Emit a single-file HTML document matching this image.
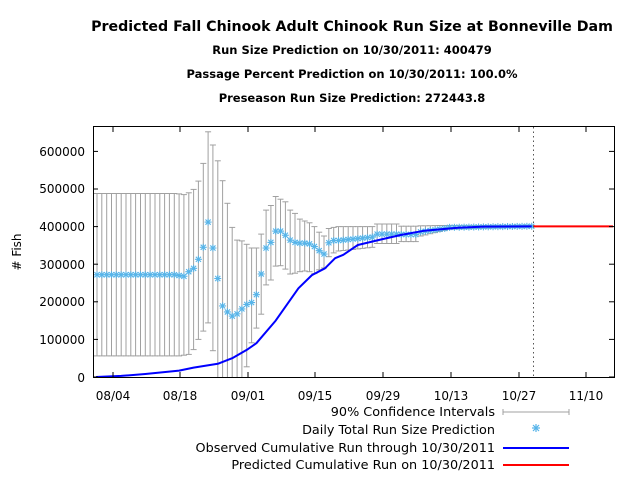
<!DOCTYPE html>
<html><head><meta charset="utf-8"><style>
html,body{margin:0;padding:0;background:#fff;}
svg{display:block;font-family:"DejaVu Sans","Liberation Sans",sans-serif;}
</style></head><body>
<svg id="s" width="640" height="480" viewBox="0 0 640 480" xmlns="http://www.w3.org/2000/svg">
<rect width="640" height="480" fill="#fff"/>
<g font-weight="bold" text-anchor="middle" fill="#000">
<text x="352" y="31" font-size="14.2">Predicted Fall Chinook Adult Chinook Run Size at Bonneville Dam</text>
<text x="352" y="54" font-size="11.5">Run Size Prediction on 10/30/2011: 400479</text>
<text x="352" y="78" font-size="11.5">Passage Percent Prediction on 10/30/2011: 100.0%</text>
<text x="352" y="102" font-size="11.5">Preseason Run Size Prediction: 272443.8</text>
</g>
<g font-size="12" fill="#000" text-anchor="end">
<text x="85" y="382">0</text>
<text x="85" y="344">100000</text>
<text x="85" y="306">200000</text>
<text x="85" y="269">300000</text>
<text x="85" y="231">400000</text>
<text x="85" y="193">500000</text>
<text x="85" y="156">600000</text>
</g>
<g font-size="12" fill="#000" text-anchor="middle">
<text x="113" y="400">08/04</text>
<text x="180" y="400">08/18</text>
<text x="248" y="400">09/01</text>
<text x="315" y="400">09/15</text>
<text x="383" y="400">09/29</text>
<text x="451" y="400">10/13</text>
<text x="519" y="400">10/27</text>
<text x="586" y="400">11/10</text>
</g>
<text x="21" y="252" font-size="12" text-anchor="middle" transform="rotate(-90 21 252)">#  Fish</text>
<g id="plot"></g>
<rect x="93.5" y="126.5" width="521" height="251" fill="none" stroke="#000" stroke-width="1"/>
<g font-size="12.8" fill="#000" text-anchor="end">
<text x="495" y="416">90% Confidence Intervals</text>
<text x="495" y="434">Daily Total Run Size Prediction</text>
<text x="495" y="452">Observed Cumulative Run through 10/30/2011</text>
<text x="495" y="469">Predicted Cumulative Run on 10/30/2011</text>
</g>
<g stroke="#a0a0a0" stroke-width="1">
<line x1="503" y1="412" x2="569" y2="412"/><line x1="503" y1="409" x2="503" y2="415"/><line x1="569" y1="409" x2="569" y2="415"/>
</g>
<g stroke="#56b4e9" stroke-width="1.2">
<line x1="532" y1="428" x2="540" y2="428"/><line x1="536" y1="424" x2="536" y2="432"/><line x1="533" y1="425" x2="539" y2="431"/><line x1="539" y1="425" x2="533" y2="431"/>
</g>
<line x1="503" y1="448" x2="569" y2="448" stroke="#0000ff" stroke-width="2"/>
<line x1="503" y1="465" x2="569" y2="465" stroke="#ff0000" stroke-width="2"/>
</svg>
<script>
(function(){
var X=function(d){return 97+4.83*d;};
var Y=function(v){return 377-v*0.376;};
var p=[],u=[],l=[];
for(var d=0;d<=16;d++){p[d]=272;u[d]=488;l[d]=56;}
var mid=[[17,270,487,56],[18,268,485,58],[19,280,490,60],[20,289,499,73],[21,313,521,100],[22,345,568,122],[23,412,652,144],[24,343,617,70],[25,262,575,-10],[26,189,522,-10],[27,173,462,-10],[28,162,398,-10],[29,168,364,-10],[30,181,362,-10],[31,193,353,27],[32,198,343,91],[33,219,343,130],[34,274,380,167],[35,343,444,245],[36,358,456,258],[37,388,480,295],[38,388,473,296],[39,377,466,287],[40,364,444,274],[41,358,435,276],[42,356,420,280],[43,356,415,282],[44,354,410,280],[45,347,400,275],[46,336,385,285],[47,327,375,290],[48,357,395,320],[49,363,398,330]];
mid.forEach(function(a){p[a[0]]=a[1];u[a[0]]=a[2];l[a[0]]=a[3];});
function lerp(a,b,t){return a+(b-a)*t;}
for(d=50;d<=57;d++){var t=(d-50)/7;p[d]=lerp(363,372,t);u[d]=400;l[d]=lerp(335,345,t);}
for(d=58;d<=62;d++){p[d]=380;u[d]=407;l[d]=355;}
for(d=63;d<=66;d++){p[d]=379;u[d]=401;l[d]=360;}
for(d=67;d<=72;d++){t=(d-67)/5;p[d]=lerp(386,395,t);u[d]=lerp(402,403,t);l[d]=lerp(375,390,t);}
for(d=73;d<=90;d++){t=(d-73)/17;p[d]=lerp(398,401,t);u[d]=403;l[d]=lerp(393,399,t);}
var s='';
for(d=0;d<=90;d++){
 var x=X(d).toFixed(1),y1=Y(u[d]).toFixed(1),y2=Math.min(377,Y(l[d])).toFixed(1);
 s+='<line x1="'+x+'" y1="'+y1+'" x2="'+x+'" y2="'+y2+'"/>';
 s+='<line x1="'+(X(d)-3).toFixed(1)+'" y1="'+y1+'" x2="'+(X(d)+3).toFixed(1)+'" y2="'+y1+'"/>';
 if(l[d]>0) s+='<line x1="'+(X(d)-3).toFixed(1)+'" y1="'+y2+'" x2="'+(X(d)+3).toFixed(1)+'" y2="'+y2+'"/>';
}
var g='<g stroke="#a0a0a0" stroke-width="1">'+s+'</g>';
s='';
for(d=0;d<=90;d++){
 var cx=X(d),cy=Y(p[d]),r=3.5;
 s+='<line x1="'+(cx-r)+'" y1="'+cy+'" x2="'+(cx+r)+'" y2="'+cy+'"/><line x1="'+cx+'" y1="'+(cy-r)+'" x2="'+cx+'" y2="'+(cy+r)+'"/><line x1="'+(cx-2.6)+'" y1="'+(cy-2.6)+'" x2="'+(cx+2.6)+'" y2="'+(cy+2.6)+'"/><line x1="'+(cx+2.6)+'" y1="'+(cy-2.6)+'" x2="'+(cx-2.6)+'" y2="'+(cy+2.6)+'"/>';
}
g+='<g stroke="#56b4e9" stroke-width="1.1">'+s+'</g>';
var c=[[-0.2,0],[5,3],[10,8],[17,17],[20,25],[25,35],[28,50],[31,72],[33,90],[37,150],[41.7,236],[44.5,271],[47.2,289],[49.3,316],[51,325],[54,351],[58.9,366],[63,378],[67.8,389],[74.7,397],[80,400],[90,400.5]];
g+='<polyline fill="none" stroke="#0000ff" stroke-width="2" stroke-linejoin="round" points="'+c.map(function(a){return X(a[0]).toFixed(1)+','+Y(a[1]).toFixed(1);}).join(' ')+'"/>';
g+='<line x1="533" y1="226.4" x2="613" y2="226.4" stroke="#ff0000" stroke-width="2"/>';
g+='<line x1="533.5" y1="127" x2="533.5" y2="377" stroke="#555" stroke-width="1" stroke-dasharray="1.5,3"/>';
var ticks='';
[113,180,248,315,383,451,519,586].forEach(function(x){ticks+='<line x1="'+x+'" y1="377" x2="'+x+'" y2="372"/><line x1="'+x+'" y1="127" x2="'+x+'" y2="132"/>';});
for(var k=0;k<=6;k++){var yy=Y(k*100);ticks+='<line x1="93" y1="'+yy+'" x2="98" y2="'+yy+'"/><line x1="614" y1="'+yy+'" x2="609" y2="'+yy+'"/>';}
g+='<g stroke="#000" stroke-width="1">'+ticks+'</g>';
document.getElementById('plot').innerHTML=g;
})();
</script>
</body></html>
